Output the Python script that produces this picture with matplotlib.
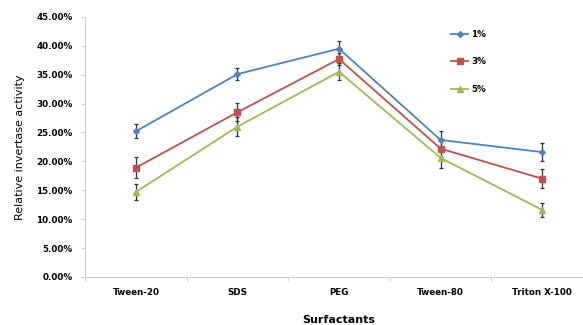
import matplotlib
matplotlib.use("Agg")
import matplotlib.pyplot as plt
from matplotlib.lines import Line2D
import numpy as np

categories = ["Tween-20", "SDS", "PEG", "Tween-80", "Triton X-100"]
series_names = ["1%", "3%", "5%"]
vals_1 = [25.2, 35.1, 39.5, 23.7, 21.6]
vals_3 = [18.9, 28.5, 37.7, 22.2, 17.0]
vals_5 = [14.7, 26.0, 35.5, 20.6, 11.6]
err_1 = [1.2, 1.0, 1.4, 1.6, 1.6]
err_3 = [1.8, 1.6, 1.0, 1.5, 1.6]
err_5 = [1.4, 1.7, 1.5, 1.8, 1.2]
yticks = [0, 5, 10, 15, 20, 25, 30, 35, 40, 45]

colors = ["#4F81BD", "#C0504D", "#9BBB59"]
markers = ["D", "s", "^"]
msizes = [3, 5, 4]

fig = plt.figure(figsize=(5.83, 3.25), dpi=100)
ax = fig.add_axes([0.146, 0.148, 0.871, 0.80])
x = np.arange(len(categories))
handles = []
for vals, errs, name, c, m, ms in zip([vals_1, vals_3, vals_5], [err_1, err_3, err_5],
                                   series_names, colors, markers, msizes):
    ax.errorbar(x, vals, yerr=errs, color=c, marker=m, markersize=ms, lw=1.3,
                ecolor="#333333", elinewidth=0.9, capsize=1.5, capthick=0.9)
    handles.append(Line2D([], [], color=c, marker=m, markersize=ms, lw=1.3, label=name))

ax.set_xlim(-0.5, 4.5)
ax.set_ylim(0, 45)
ax.set_yticks(yticks)
ax.set_yticklabels([f"{v:.2f}%" for v in yticks], fontsize=6.3, fontweight="bold")
ax.set_xticks(x)
ax.set_xticklabels(categories, fontsize=6.3, fontweight="bold")
ax.set_xticks(np.arange(-0.5, 4.6, 1), minor=True)
ax.tick_params(axis="x", which="major", length=0, pad=8)
ax.tick_params(axis="x", which="minor", length=3, color="#cccccc")
ax.tick_params(axis="y", length=3, color="#cccccc", pad=6)
for s in ["top", "right"]:
    ax.spines[s].set_visible(False)
for s in ["left", "bottom"]:
    ax.spines[s].set_color("#cccccc")
ax.set_ylabel("Relative invertase activity", fontsize=8, labelpad=8)
ax.set_xlabel("Surfactants", fontsize=8, fontweight="bold", labelpad=13)
ax.legend(handles=handles, loc="upper left", bbox_to_anchor=(0.705, 0.98), frameon=False,
          prop={"weight": "bold", "size": 6.3}, labelspacing=2.1,
          handlelength=2.0, handletextpad=0.3)
fig.savefig("out.png", dpi=100)
